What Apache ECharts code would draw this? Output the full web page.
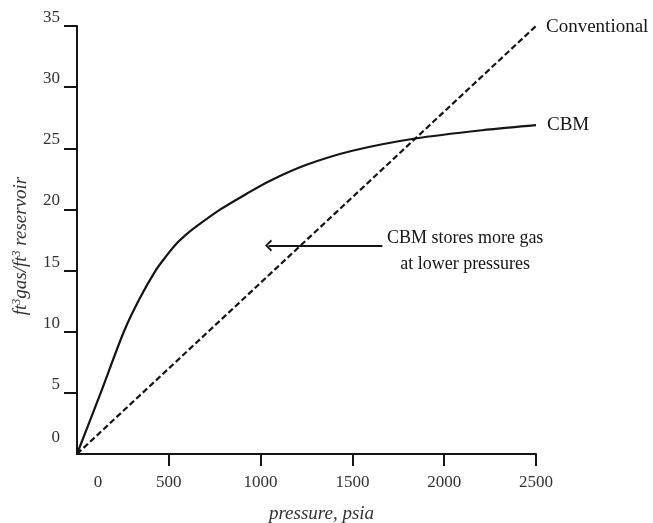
<!DOCTYPE html>
<html>
<head>
<meta charset="utf-8">
<script src="https://cdn.jsdelivr.net/npm/echarts@6/dist/echarts.min.js"></script>
<style>html,body{margin:0;padding:0;background:#fff}#c{width:653px;height:523px}</style>
</head>
<body>
<div id="c"></div>
<script>
// Data
const pressureCBM = [0, 129, 255, 337, 428, 487, 545, 591, 645, 781, 926, 1052, 1250, 1500, 1842, 2250, 2500];
const gasCBM      = [0, 5.0, 10.0, 12.6, 15.0, 16.2, 17.25, 17.9, 18.55, 20.0, 21.3, 22.35, 23.65, 24.8, 25.8, 26.55, 26.9];
const pressureConv = [0, 2500];
const gasConv      = [0, 35];
const xTicks = [500, 1000, 1500, 2000, 2500];
const xLabels = [0, 500, 1000, 1500, 2000, 2500];
const yTicks = [5, 10, 15, 20, 25, 30, 35];
const yLabels = [0, 5, 10, 15, 20, 25, 30, 35];
const seriesNames = ['CBM', 'Conventional'];
const arrowFrom = [1663, 17.05];
const arrowTo = [1043, 17.05];
const noteAt = [2114, 16.55];
const noteText = 'CBM stores more gas\nat lower pressures';

const FONT = '"Liberation Serif", "DejaVu Serif", serif';
const INK = '#151515';
const chart = echarts.init(document.getElementById('c'));
chart.setOption({
  animation: false,
  backgroundColor: '#fff',
  grid: { left: 77, right: 117, top: 26, bottom: 69, containLabel: false, outerBoundsMode: 'none' },
  xAxis: {
    type: 'value', min: 0, max: 2500, interval: 500,
    name: 'pressure, psia', nameLocation: 'middle', nameGap: 50,
    nameTextStyle: { fontFamily: FONT, fontStyle: 'italic', fontSize: 19, color: '#333', padding: [0, 0, 0, 30] },
    axisLine: { show: true, lineStyle: { color: INK, width: 2 } },
    axisTick: { show: true, inside: false, length: 12, customValues: xTicks, lineStyle: { color: INK, width: 2 } },
    axisLabel: {
      customValues: xLabels, margin: 20, fontFamily: FONT, fontSize: 17, color: '#333',
      formatter: v => v === 0 ? '{z|0}' : String(v),
      rich: { z: { fontFamily: FONT, fontSize: 17, color: '#333', padding: [0, 0, 0, 42] } }
    },
    splitLine: { show: false }
  },
  yAxis: {
    type: 'value', min: 0, max: 35, interval: 5,
    name: 'ft{s|3}gas/ft{s|3} reservoir', nameLocation: 'middle', nameGap: 46, nameRotate: 90,
    nameTextStyle: {
      fontFamily: FONT, fontStyle: 'italic', fontSize: 19, color: '#333', padding: [0, 12, 0, 0],
      rich: { s: { fontFamily: FONT, fontStyle: 'italic', fontSize: 12, color: '#333', padding: [0, 0, 8, 0] } }
    },
    axisLine: { show: true, lineStyle: { color: INK, width: 2 } },
    axisTick: { show: true, inside: false, length: 13, customValues: yTicks, lineStyle: { color: INK, width: 2 } },
    axisLabel: {
      customValues: yLabels, margin: 17, fontFamily: FONT, fontSize: 17, color: '#333', verticalAlign: 'bottom',
      formatter: v => v === 0 ? '{z|0}' : String(v),
      rich: { z: { fontFamily: FONT, fontSize: 17, color: '#333', padding: [0, 0, 8, 0] } }
    },
    splitLine: { show: false }
  },
  series: [
    {
      name: seriesNames[0], type: 'line', smooth: 0.3, symbol: 'none',
      data: pressureCBM.map((p, i) => [p, gasCBM[i]]),
      lineStyle: { color: INK, width: 2.2 },
      endLabel: { show: true, formatter: '{a}', distance: 11, fontFamily: FONT, fontSize: 19, color: INK },
      markLine: {
        silent: true, symbol: ['none', 'path://M5,0 L10,6 L8.6,7 L5,2.4 L1.4,7 L0,6 Z'], symbolSize: [12, 7],
        lineStyle: { color: INK, width: 2, type: 'solid' }, label: { show: false },
        data: [[{ coord: arrowFrom }, { coord: arrowTo }]]
      },
      markPoint: {
        silent: true, symbol: 'circle', symbolSize: 0,
        data: [{ coord: noteAt }],
        label: { show: true, position: 'inside', formatter: noteText, fontFamily: FONT, fontSize: 18, lineHeight: 26, color: INK, align: 'center' }
      }
    },
    {
      name: seriesNames[1], type: 'line', symbol: 'none',
      data: pressureConv.map((p, i) => [p, gasConv[i]]),
      lineStyle: { color: INK, width: 2.2, type: [6, 3] },
      endLabel: { show: true, formatter: '{a}', distance: 10, fontFamily: FONT, fontSize: 19, color: INK, offset: [0, 1] }
    }
  ]
});
</script>
</body>
</html>
